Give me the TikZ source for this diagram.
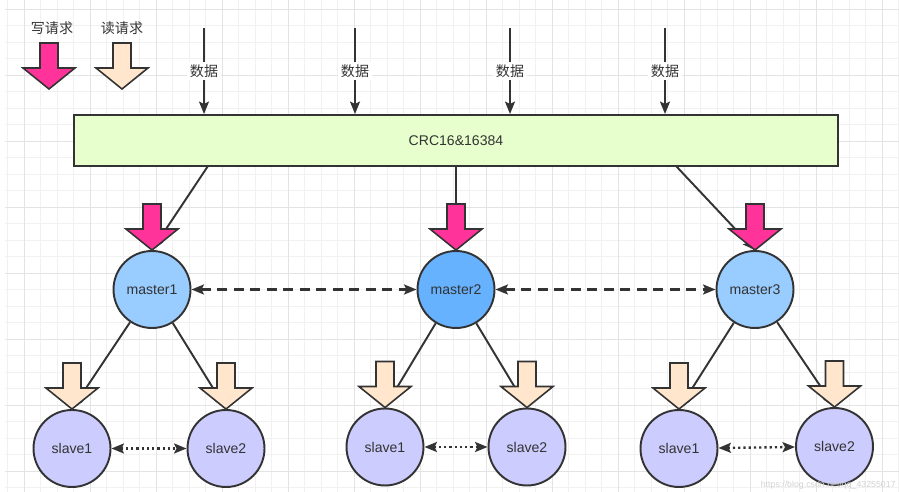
\documentclass[tikz,border=0pt]{standalone}
\usepackage{fontspec}
\setmainfont{Liberation Sans}
\newfontfamily\cjk{Noto Sans CJK SC}
\usetikzlibrary{arrows.meta, positioning}
\definecolor{LineGray}{HTML}{333333}
\definecolor{GridMinor}{HTML}{F1F1F1}
\definecolor{GridMajor}{HTML}{E3E3E3}
\definecolor{CrcGreen}{HTML}{E6FFCC}
\definecolor{MasterBlue}{HTML}{99CCFF}
\definecolor{MasterBlueDark}{HTML}{66B2FF}
\definecolor{SlaveLilac}{HTML}{CCCCFF}
\definecolor{WritePink}{HTML}{FF3399}
\definecolor{ReadCream}{HTML}{FFE6CC}

\begin{document}
\begin{tikzpicture}[x=0.02cm, y=-0.02cm,
        txt/.style={font=\fontsize{8}{9}\selectfont, text=LineGray},
        cjktxt/.style={font=\fontsize{8}{9}\selectfont\cjk, text=LineGray},
        crcbox/.style={rectangle, draw=LineGray, line width=1.1pt, fill=CrcGreen, minimum width=15.28cm, minimum height=1.02cm, txt},
        master/.style={circle, draw=LineGray, line width=1.1pt, fill=MasterBlue, minimum size=1.54cm, inner sep=0pt, txt},
        slave/.style={circle, draw=LineGray, line width=1.1pt, fill=SlaveLilac, minimum size=1.54cm, inner sep=0pt, txt},
        arrow/.style={-{Stealth[length=2.5mm, width=2mm, inset=0.5mm]}, line width=1.1pt, LineGray},
        peer/.style={{Stealth[length=2.5mm, width=2mm, inset=0.5mm]}-{Stealth[length=2.5mm, width=2mm, inset=0.5mm]}, line width=1.25pt, LineGray, dash pattern=on 2mm off 1.3mm},
        pair/.style={{Stealth[length=2.5mm, width=2mm, inset=0.5mm]}-{Stealth[length=2.5mm, width=2mm, inset=0.5mm]}, line width=1.35pt, LineGray, dash pattern=on 0.45mm off 0.6mm},
        datalabel/.style={fill=white, inner sep=1.5pt, cjktxt},
        writereq/.style={fill=WritePink},
        readreq/.style={fill=ReadCream},
        reqarrow/.pic={
            \path[draw=LineGray, line width=0.9pt, pic actions] (-9,-46) -- (-9,-21) -- (-26,-21) -- (0,0)
                -- (26,-21) -- (9,-21) -- (9,-46) -- cycle;
        }
    ]
        \useasboundingbox (0,0) rectangle (899,492);

        % background grid
        \foreach \i in {0,...,54}
            \draw[GridMinor, line width=0.5pt] (7.5+16.5*\i,0) -- (7.5+16.5*\i,492);
        \foreach \j in {0,...,29}
            \draw[GridMinor, line width=0.5pt] (5,9+16.5*\j) -- (899,9+16.5*\j);
        \foreach \i in {0,...,13}
            \draw[GridMajor, line width=0.5pt] (24+66*\i,0) -- (24+66*\i,492);
        \foreach \j in {0,...,7}
            \draw[GridMajor, line width=0.5pt] (5,9+66*\j) -- (899,9+66*\j);

        % legend
        \node[cjktxt] (wlabel) at (52,28) {写请求};
        \node[cjktxt] (rlabel) at (122,28) {读请求};
        \pic[writereq] (wlegend) at (49,89) {reqarrow};
        \pic[readreq] (rlegend) at (122,89) {reqarrow};

        % hash slot box and incoming data
        \node[crcbox] (crc) at (456,140.5) {CRC16\&16384};
        \foreach \x [count=\k] in {204,355,510,665} {
            \coordinate (d\k) at (\x,28);
            \draw[arrow] (d\k) -- (d\k |- crc.north) node[midway, datalabel] {数据};
        }

        % masters
        \node[master] (master1) at (152,289.5) {master1};
        \node[master, fill=MasterBlueDark] (master2) at (456,289.5) {master2};
        \node[master] (master3) at (755,289.5) {master3};

        % slaves
        \node[slave] (slave11) at (72,448.5) {slave1};
        \node[slave] (slave12) at (226,448.5) {slave2};
        \node[slave] (slave21) at (385,447) {slave1};
        \node[slave] (slave22) at (527,447) {slave2};
        \node[slave] (slave31) at (679,448.5) {slave1};
        \node[slave] (slave32) at (834.5,446.5) {slave2};

        % box to masters
        \coordinate (out1) at (208,166);
        \coordinate (out3) at (676,166);
        \draw[arrow] (out1) -- (master1.north);
        \draw[arrow] (crc.south -| master2) -- (master2.north);
        \draw[arrow] (out3) -- (master3.north);

        % masters to slaves
        \foreach \m in {1,2,3} {
            \draw[arrow] (master\m) -- (slave\m1.north);
            \draw[arrow] (master\m) -- (slave\m2.north);
            \draw[pair] (slave\m1) -- (slave\m2);
        }
        \draw[peer] (master1) -- (master2);
        \draw[peer] (master2) -- (master3);

        % requests
        \foreach \m in {1,2,3} {
            \pic[writereq] at (master\m.north) {reqarrow};
            \pic[readreq] at (slave\m1.north) {reqarrow};
            \pic[readreq] at (slave\m2.north) {reqarrow};
        }

        \node[font=\fontsize{5}{6}\selectfont, text=gray!35, anchor=east, inner sep=0pt] (mark) at (896,485) {https://blog.csdn.net/qq\_43255017};
    \end{tikzpicture}
\end{document}
